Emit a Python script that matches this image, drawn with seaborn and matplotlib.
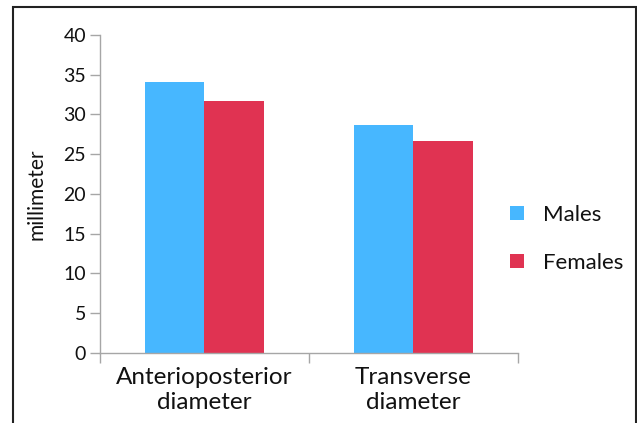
import pandas as pd
import matplotlib.pyplot as plt
import seaborn as sns
from matplotlib.patches import Rectangle
from matplotlib.ticker import FixedLocator

categories = ["Anterioposterior\ndiameter", "Transverse\ndiameter"]
males = [34.1, 28.7]
females = [31.7, 26.6]

df = pd.DataFrame({
    "category": categories * 2,
    "sex": ["Males"] * 2 + ["Females"] * 2,
    "value": males + females,
})

sns.set_style("white")
plt.rcParams['font.family'] = ['Lato', 'DejaVu Sans']
plt.rcParams['text.color'] = '#111111'
plt.rcParams['axes.labelcolor'] = '#111111'
plt.rcParams['xtick.labelcolor'] = '#111111'
plt.rcParams['ytick.labelcolor'] = '#111111'

fig = plt.figure(figsize=(6.37, 4.23), dpi=100)
ax = fig.add_axes([0.157, 0.1655, 0.656, 0.752])

sns.barplot(data=df, x="category", y="value", hue="sex",
            palette={"Males": "#47b7ff", "Females": "#e03352"},
            width=0.57, gap=0, saturation=1, ax=ax, errorbar=None, linewidth=0)

ax.set_ylim(0, 40)
ax.set_xlim(-0.5, 1.5)
ax.set_yticks(range(0, 41, 5))
ax.set_xlabel("")
ax.set_ylabel("millimeter", fontsize=15, labelpad=12)
ax.tick_params(axis="y", labelsize=14, length=7, width=1, color="#a6a6a6", direction="out", left=True, pad=3)
ax.tick_params(axis="x", which="major", labelsize=17.5, length=0, pad=10)
ax.xaxis.set_minor_locator(FixedLocator([-0.5, 0.5, 1.5]))
ax.tick_params(axis="x", which="minor", length=7, width=1, color="#a6a6a6", direction="out", bottom=True)
for lab in ax.get_xticklabels():
    lab.set_linespacing(1.25)

for s in ["top", "right"]:
    ax.spines[s].set_visible(False)
for s in ["left", "bottom"]:
    ax.spines[s].set_color("#a6a6a6")
    ax.spines[s].set_linewidth(1)

ax.legend(loc="center left", bbox_to_anchor=(0.77, 0.435), bbox_transform=fig.transFigure,
          frameon=False, fontsize=16, handlelength=0.6, handleheight=0.6,
          handletextpad=0.85, labelspacing=1.25)

fig.patches.append(Rectangle((13 / 637, -0.05), 623 / 637, 1.05 - 7 / 423,
                             transform=fig.transFigure, fill=False,
                             edgecolor="#222222", linewidth=1.5))

fig.savefig("out.png", dpi=100)
